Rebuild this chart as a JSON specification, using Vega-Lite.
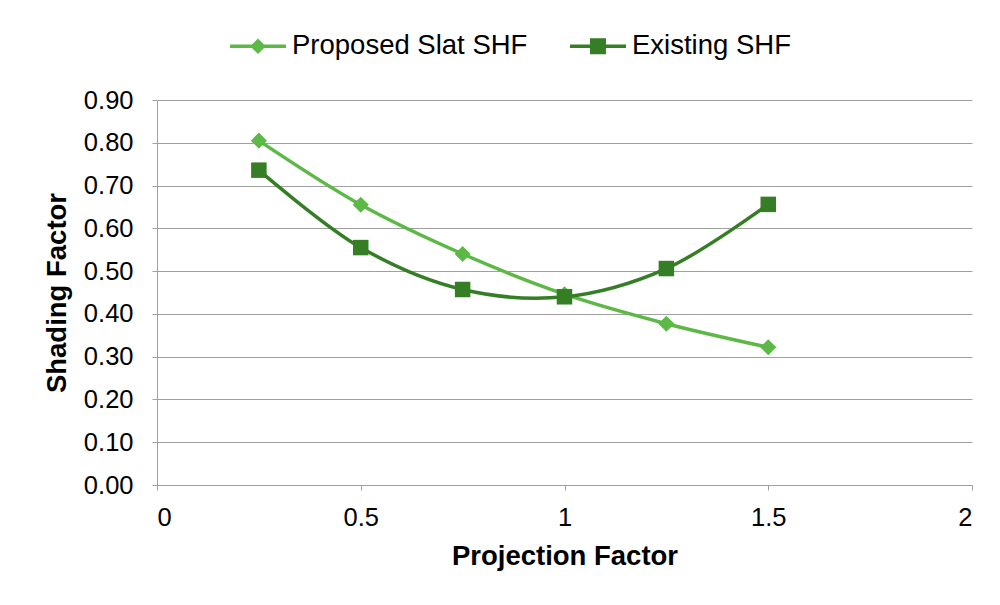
{
  "$schema": "https://vega.github.io/schema/vega-lite/v6.json",
  "width": 815,
  "height": 385,
  "autosize": "none",
  "padding": {"left": 157, "top": 100, "right": 28, "bottom": 120},
  "background": "white",
  "config": {
    "view": {"stroke": null},
    "font": "Liberation Sans",
    "axis": {
      "labelFont": "Liberation Sans",
      "titleFont": "Liberation Sans",
      "labelColor": "#000000",
      "titleColor": "#000000",
      "domainColor": "#a0a0a0",
      "tickColor": "#a0a0a0",
      "gridColor": "#a0a0a0",
      "domainWidth": 1,
      "tickWidth": 1,
      "gridWidth": 1,
      "tickSize": 5,
      "labelFontSize": 25.5,
      "titleFontSize": 27.5,
      "titleFontWeight": "bold"
    }
  },
  "data": {
    "values": [
      {"pf": 0.25, "shf": 0.805, "series": "Proposed Slat SHF"},
      {"pf": 0.5, "shf": 0.655, "series": "Proposed Slat SHF"},
      {"pf": 0.75, "shf": 0.54, "series": "Proposed Slat SHF"},
      {"pf": 1.0, "shf": 0.446, "series": "Proposed Slat SHF"},
      {"pf": 1.25, "shf": 0.377, "series": "Proposed Slat SHF"},
      {"pf": 1.5, "shf": 0.322, "series": "Proposed Slat SHF"},
      {"pf": 0.25, "shf": 0.736, "series": "Existing SHF"},
      {"pf": 0.5, "shf": 0.555, "series": "Existing SHF"},
      {"pf": 0.75, "shf": 0.457, "series": "Existing SHF"},
      {"pf": 1.0, "shf": 0.44, "series": "Existing SHF"},
      {"pf": 1.25, "shf": 0.506, "series": "Existing SHF"},
      {"pf": 1.5, "shf": 0.656, "series": "Existing SHF"}
    ]
  },
  "encoding": {
    "x": {
      "field": "pf", "type": "quantitative",
      "scale": {"domain": [0, 2], "nice": false},
      "axis": {"values": [0, 0.5, 1, 1.5, 2], "format": "~g", "grid": false, "title": "Projection Factor", "labelPadding": 15, "titlePadding": 12}
    },
    "y": {
      "field": "shf", "type": "quantitative",
      "scale": {"domain": [0, 0.9], "nice": false},
      "axis": {"values": [0, 0.1, 0.2, 0.3, 0.4, 0.5, 0.6, 0.7, 0.8, 0.9], "format": ".2f", "grid": true, "title": "Shading Factor", "labelPadding": 19, "titlePadding": 12}
    },
    "color": {
      "field": "series", "type": "nominal",
      "scale": {"domain": ["Proposed Slat SHF", "Existing SHF"], "range": ["#5cb946", "#357e25"]},
      "legend": {
        "title": null,
        "orient": "none",
        "direction": "horizontal",
        "legendX": 73,
        "legendY": -82,
        "padding": 0,
        "symbolSize": 3136,
        "symbolStrokeWidth": 0,
        "labelFont": "Liberation Sans",
        "labelFontSize": 27.5,
        "labelColor": "#000000",
        "labelLimit": 0,
        "labelOffset": 6,
        "columnPadding": 42,
        "encode": {
          "symbols": {
            "update": {
              "shape": {"signal": "datum.value === 'Proposed Slat SHF' ? 'M-1,-0.0625H1V0.0625H-1Z M0,-0.28L0.28,0L0,0.28L-0.28,0Z' : 'M-1,-0.0625H1V0.0625H-1Z M-0.285,-0.285H0.285V0.285H-0.285Z'"},
              "strokeWidth": {"value": 0},
              "opacity": {"value": 1}
            }
          }
        }
      }
    }
  },
  "layer": [
    {
      "mark": {"type": "line", "interpolate": "catmull-rom", "strokeWidth": 3.5},
      "encoding": {}
    },
    {
      "transform": [{"filter": "datum.series === 'Proposed Slat SHF'"}],
      "mark": {"type": "point", "filled": true, "opacity": 1, "shape": "diamond", "size": 260}
    },
    {
      "transform": [{"filter": "datum.series === 'Existing SHF'"}],
      "mark": {"type": "point", "filled": true, "opacity": 1, "shape": "square", "size": 240}
    }
  ]
}
